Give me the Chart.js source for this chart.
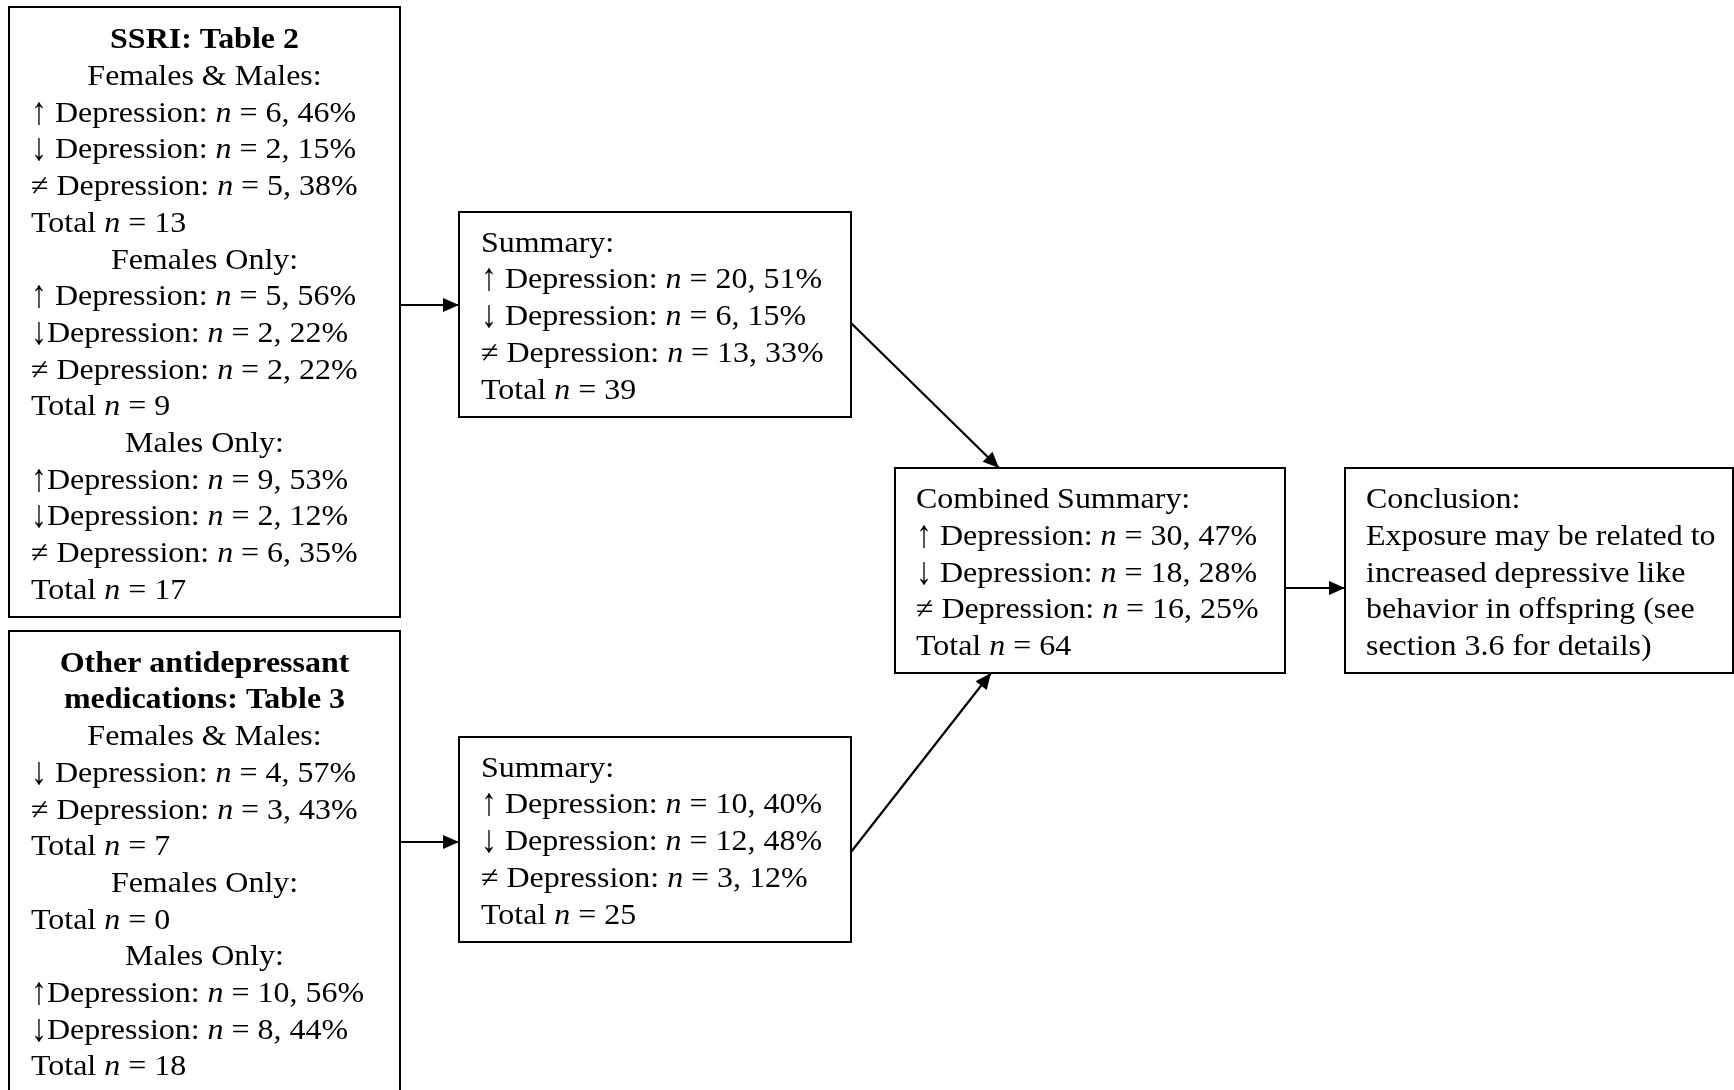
<!DOCTYPE html>
<html>
<head>
<meta charset="utf-8">
<script src="https://cdn.jsdelivr.net/npm/chart.js@4.4.1/dist/chart.umd.min.js"></script>
<style>
  html, body { margin: 0; padding: 0; background: #fff; }
  #wrap { width: 1734px; height: 1090px; }
</style>
</head>
<body>
<div id="wrap"><canvas id="flow" width="1734" height="1090"></canvas></div>
<script>
// Box contents
const ssriTitle = ['SSRI: Table 2'];
const ssriLines = [
  'Females & Males:',
  '↑ Depression: n = 6, 46%',
  '↓ Depression: n = 2, 15%',
  '≠ Depression: n = 5, 38%',
  'Total n = 13',
  'Females Only:',
  '↑ Depression: n = 5, 56%',
  '↓Depression: n = 2, 22%',
  '≠ Depression: n = 2, 22%',
  'Total n = 9',
  'Males Only:',
  '↑Depression: n = 9, 53%',
  '↓Depression: n = 2, 12%',
  '≠ Depression: n = 6, 35%',
  'Total n = 17'
];
const otherTitle = ['Other antidepressant', 'medications: Table 3'];
const otherLines = [
  'Females & Males:',
  '↓ Depression: n = 4, 57%',
  '≠ Depression: n = 3, 43%',
  'Total n = 7',
  'Females Only:',
  'Total n = 0',
  'Males Only:',
  '↑Depression: n = 10, 56%',
  '↓Depression: n = 8, 44%',
  'Total n = 18'
];
const ssriSummary = ['Summary:', '↑ Depression: n = 20, 51%', '↓ Depression: n = 6, 15%', '≠ Depression: n = 13, 33%', 'Total n = 39'];
const otherSummary = ['Summary:', '↑ Depression: n = 10, 40%', '↓ Depression: n = 12, 48%', '≠ Depression: n = 3, 12%', 'Total n = 25'];
const combinedSummary = ['Combined Summary:', '↑ Depression: n = 30, 47%', '↓ Depression: n = 18, 28%', '≠ Depression: n = 16, 25%', 'Total n = 64'];
const conclusion = ['Conclusion:', 'Exposure may be related to', 'increased depressive like', 'behavior in offspring (see', 'section 3.6 for details)'];

// Layout (page units on the hidden x/y scales)
const FONT = '"Liberation Serif", "Times New Roman", serif';
const SIZE = 30;
const STRETCH = 1.065;   // text in the original is a bit wider than Liberation Serif
const STEP = 36.7;
const boxes = [
  { title: ssriTitle, lines: ssriLines, x0: 9, y0: 7, x1: 400, y1: 617, tx: 31, by: 48.3, center: true },
  { title: otherTitle, lines: otherLines, x0: 9, y0: 631, x1: 400, y1: 1110, tx: 31, by: 671.7, center: true },
  { lines: ssriSummary, x0: 459, y0: 212, x1: 851, y1: 417, tx: 481, by: 251.7 },
  { lines: otherSummary, x0: 459, y0: 737, x1: 851, y1: 942, tx: 481, by: 776.7 },
  { lines: combinedSummary, x0: 895, y0: 468, x1: 1285, y1: 673, tx: 916, by: 508.3 },
  { lines: conclusion, x0: 1345, y0: 468, x1: 1733, y1: 673, tx: 1366, by: 508.3 }
];
const links = [
  [[400, 305], [459, 305]],
  [[400, 842], [459, 842]],
  [[851, 323], [999, 468]],
  [[851, 852], [991, 673]],
  [[1285, 588], [1345, 588]]
];

// draw a line where the standalone "n" is italic and arrows are a bit taller
function drawRich(ctx, text, x, y, align, bold) {
  const parts = text.split(/(\bn\b|[↑↓])/).filter(p => p !== '');
  const fonts = parts.map(p => (p === 'n' ? 'italic ' : (bold ? 'bold ' : '')) + SIZE + 'px ' + FONT);
  let total = 0;
  const widths = parts.map((p, i) => { ctx.font = fonts[i]; const w = ctx.measureText(p).width; total += w; return w; });
  ctx.save();
  ctx.translate(x, y);
  ctx.scale(STRETCH, 1);
  let cx = align === 'center' ? -total / 2 : 0;
  parts.forEach((p, i) => {
    ctx.font = fonts[i];
    if (p === '↑' || p === '↓') {
      ctx.save();
      ctx.translate(cx, 2);
      ctx.scale(1, 1.3);
      ctx.fillText(p, 0, 0);
      ctx.restore();
    } else {
      ctx.fillText(p, cx, 0);
    }
    cx += widths[i];
  });
  ctx.restore();
}

const flowPlugin = {
  id: 'flowBoxes',
  afterDatasetsDraw(chart) {
    const ctx = chart.ctx;
    const xs = chart.scales.x, ys = chart.scales.y;
    ctx.save();
    ctx.strokeStyle = '#000';
    ctx.fillStyle = '#000';
    ctx.lineWidth = 2;
    ctx.textBaseline = 'alphabetic';
    ctx.textAlign = 'left';

    boxes.forEach(b => {
      const l = xs.getPixelForValue(b.x0), r = xs.getPixelForValue(b.x1);
      const t = ys.getPixelForValue(b.y0), btm = ys.getPixelForValue(b.y1);
      ctx.strokeRect(l, t, r - l, btm - t);
      const cx = (l + r) / 2;
      let row = 0;
      (b.title || []).forEach(s => {
        drawRich(ctx, s, cx, ys.getPixelForValue(b.by + row * STEP), 'center', true);
        row++;
      });
      b.lines.forEach(s => {
        const y = ys.getPixelForValue(b.by + row * STEP);
        if (b.center && /:$/.test(s)) drawRich(ctx, s, cx, y, 'center', false);
        else drawRich(ctx, s, xs.getPixelForValue(b.tx), y, 'left', false);
        row++;
      });
    });

    // arrow heads at the end of each link
    chart.data.datasets.forEach(ds => {
      const p = ds.data[ds.data.length - 1], q = ds.data[ds.data.length - 2];
      const px = xs.getPixelForValue(p.x), py = ys.getPixelForValue(p.y);
      const qx = xs.getPixelForValue(q.x), qy = ys.getPixelForValue(q.y);
      const a = Math.atan2(py - qy, px - qx);
      const len = 16, half = 7;
      ctx.beginPath();
      ctx.moveTo(px, py);
      ctx.lineTo(px - len * Math.cos(a) + half * Math.sin(a), py - len * Math.sin(a) - half * Math.cos(a));
      ctx.lineTo(px - len * Math.cos(a) - half * Math.sin(a), py - len * Math.sin(a) + half * Math.cos(a));
      ctx.closePath();
      ctx.fill();
    });
    ctx.restore();
  }
};

new Chart(document.getElementById('flow'), {
  type: 'scatter',
  data: {
    datasets: links.map(pts => ({
      data: pts.map(p => ({ x: p[0], y: p[1] })),
      showLine: true,
      borderColor: '#000',
      borderWidth: 2.2,
      pointRadius: 0
    }))
  },
  options: {
    responsive: false,
    animation: false,
    devicePixelRatio: 1,
    layout: { padding: 0 },
    plugins: { legend: { display: false }, tooltip: { enabled: false } },
    scales: {
      x: { type: 'linear', min: 0, max: 1734, display: false },
      y: { type: 'linear', min: 0, max: 1090, reverse: true, display: false }
    }
  },
  plugins: [flowPlugin]
});
</script>
</body>
</html>
